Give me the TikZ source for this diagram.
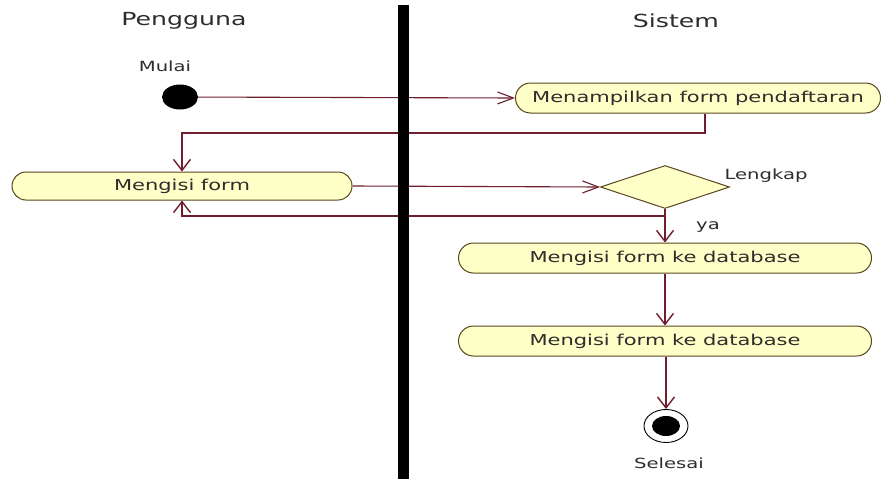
\documentclass[tikz,border=0pt]{standalone}
\usepackage{fontspec}
\setmainfont{DejaVu Sans}[FakeStretch=1.4]
\usetikzlibrary{arrows.meta,shapes.misc,shapes.geometric}
\definecolor{flowc}{RGB}{110,30,45}
\definecolor{actfill}{RGB}{255,255,200}
\definecolor{actdraw}{RGB}{90,70,30}
\definecolor{txt}{RGB}{45,45,45}
\begin{document}
\begin{tikzpicture}[x=1pt,y=-1pt,
  act/.style={rounded rectangle, draw=actdraw, fill=actfill, line width=1pt,
    inner sep=0pt, minimum height=30pt, text=txt, font=\fontsize{15}{17}\selectfont},
  decision/.style={diamond, draw=actdraw, fill=actfill, line width=1pt,
    inner sep=0pt, minimum width=129pt, minimum height=43pt},
  flow/.style={draw=flowc, line width=1.1pt},
  hflow/.style={flow, -{Straight Barb[length=16pt,width=12pt]}},
  vflow/.style={flow, line width=1.4pt, -{Straight Barb[length=11pt,width=17pt]}},
  lbl/.style={text=txt, font=\fontsize{14}{16}\selectfont},
  lane/.style={text=txt, font=\fontsize{18}{20}\selectfont}]
\useasboundingbox (0,0) rectangle (883,479);
\fill[white] (0,0) rectangle (883,479);

% swimlane titles
\node[lane] (pengguna) at (184,21) {Pengguna};
\node[lane] (sistem) at (676,21) {Sistem};

% start / end
\node[ellipse, fill=black, minimum width=36pt, minimum height=25pt, inner sep=0pt] (start) at (180,97) {};
\node[lbl] (mulai) at (165,66) {Mulai};
\node[ellipse, draw=black, fill=white, line width=0.9pt, minimum width=44pt, minimum height=33pt, inner sep=0pt] (stop) at (666,426) {};
\fill[black] (stop.center) ellipse [x radius=14pt, y radius=10pt];
\node[lbl] (selesai) at (669,463) {Selesai};

% activities
\node[act, minimum width=365pt] (tampil) at (698,98) {Menampilkan form pendaftaran};
\node[act, minimum width=340pt, minimum height=28pt] (isi) at (182,186) {Mengisi form};
\node[decision] (cek) at (665,187) {};
\node[lbl] (lengkap) at (766,176) {Lengkap};
\node[act, minimum width=413pt] (db1) at (665,258) {Mengisi form ke database};
\node[act, minimum width=413pt] (db2) at (665,341) {Mengisi form ke database};
\node[lbl] (ya) at (708,227) {ya};

% helper bends
\coordinate (turn1) at (705,133);
\coordinate (back) at (665,216);

% flows
\draw[hflow] (start) -- (tampil.west);
\draw[vflow] (turn1 |- tampil.south) -- (turn1) -| (isi.north);
\draw[hflow] (isi.east) -- (cek.west);
\draw[vflow] (cek.south) -- (db1.north);
\draw[vflow] (back) -| (isi.south);
\draw[vflow] (db1.south) -- (db2.north);
\draw[vflow] (db2.south -| stop.north) -- (stop.north);

% lane separator, over the crossing flows
\fill[black] (398,5) rectangle (409,479);
\end{tikzpicture}
\end{document}
